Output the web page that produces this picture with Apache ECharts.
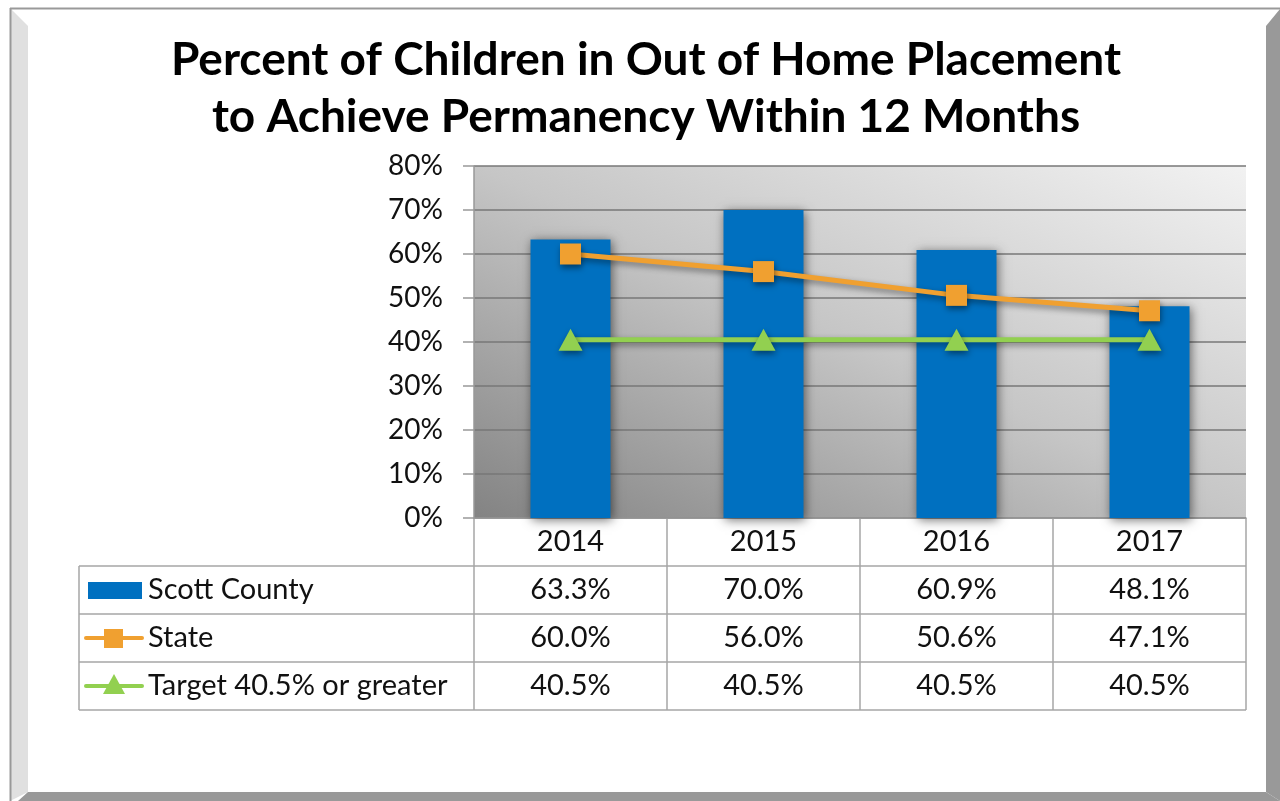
<!DOCTYPE html>
<html>
<head>
<meta charset="utf-8">
<script src="https://cdn.jsdelivr.net/npm/echarts@6/dist/echarts.min.js"></script>
<style>
  html, body { margin: 0; padding: 0; background: #fff; }
  #chart { width: 1280px; height: 801px; }
</style>
</head>
<body>
<div id="chart"></div>
<script>
// data
const years = ['2014', '2015', '2016', '2017'];
const scottCounty = [63.3, 70.0, 60.9, 48.1];
const state = [60.0, 56.0, 50.6, 47.1];
const target = [40.5, 40.5, 40.5, 40.5];
const seriesNames = ['Scott County', 'State', 'Target 40.5% or greater'];
const yTicks = [0, 10, 20, 30, 40, 50, 60, 70, 80];

const BLUE = '#0070c0';
const ORANGE = '#f0a030';
const GREEN = '#92d050';
const FONT = 'Lato';
const TABLE_LINE = '#a6a6a6';
const SHADOW = { shadowBlur: 6, shadowColor: 'rgba(0,0,0,0.45)', shadowOffsetX: 1, shadowOffsetY: 3 };

const chart = echarts.init(document.getElementById('chart'), null, { renderer: 'canvas' });

const grid = { left: 474, right: 34, top: 166, bottom: 283 };

const option = {
  animation: false,
  backgroundColor: '#fff',
  grid: { left: grid.left, right: grid.right, top: grid.top, bottom: grid.bottom },
  xAxis: {
    type: 'category',
    data: years,
    axisLine: { show: true, lineStyle: { color: '#999', width: 1.5 } },
    axisTick: { show: false },
    axisLabel: { show: false }
  },
  yAxis: {
    type: 'value',
    min: yTicks[0],
    max: yTicks[yTicks.length - 1],
    interval: 10,
    axisLine: { show: true, lineStyle: { color: '#999', width: 1.5 } },
    axisTick: { show: true, length: 11, lineStyle: { color: '#999', width: 1.5 } },
    axisLabel: {
      formatter: '{value}%',
      color: '#111',
      fontFamily: FONT,
      fontSize: 28,
      margin: 31
    },
    splitLine: { lineStyle: { color: '#777', width: 1.5 } }
  },
  series: [
    {
      name: seriesNames[0],
      type: 'bar',
      data: scottCounty,
      barWidth: 80,
      itemStyle: {
        color: BLUE,
        shadowBlur: 10,
        shadowColor: 'rgba(0,0,0,0.55)',
        shadowOffsetX: 1,
        shadowOffsetY: 2
      }
    },
    {
      name: seriesNames[1],
      type: 'line',
      data: state,
      symbol: 'rect',
      symbolSize: 21,
      lineStyle: Object.assign({ color: ORANGE, width: 5 }, SHADOW),
      itemStyle: Object.assign({ color: ORANGE }, SHADOW),
      z: 3
    },
    {
      name: seriesNames[2],
      type: 'line',
      data: target,
      symbol: 'triangle',
      symbolSize: [24, 22],
      lineStyle: Object.assign({ color: GREEN, width: 5 }, SHADOW),
      itemStyle: Object.assign({ color: GREEN }, SHADOW),
      z: 3
    }
  ]
};

chart.setOption(option);

// frame, title, plot background and data table
const W = 1280, H = 801;
const plotRight = W - grid.right;
const plotBottom = H - grid.bottom;
const tableLeft = 79;
const rowH = 48;
const headTop = plotBottom;
const band = (plotRight - grid.left) / years.length;
const elements = [];

// plot area gradient: dark bottom-left corner, light top-right corner,
// with the mid tone running along the other diagonal
const pw = plotRight - grid.left, ph = plotBottom - grid.top;
const k = (2 * pw * ph) / (pw * pw + ph * ph);
elements.push({
  type: 'rect', z: -1,
  shape: { x: grid.left, y: grid.top, width: pw, height: ph },
  style: {
    fill: new echarts.graphic.LinearGradient(0, 1, k * ph / pw, 1 - k * pw / ph, [
      { offset: 0, color: '#838383' },
      { offset: 0.5, color: '#c6c6c6' },
      { offset: 1, color: '#f2f2f2' }
    ])
  }
});

// bevelled frame
elements.push(
  { type: 'polygon', shape: { points: [[10, 8], [28, 26], [28, 792], [10, 801]] }, style: { fill: '#e0e0e0' } },
  { type: 'polygon', shape: { points: [[1266, 26], [1280, 9], [1280, 801], [1266, 792]] }, style: { fill: '#999' } },
  { type: 'polygon', shape: { points: [[28, 792], [1266, 792], [1280, 801], [18, 801]] }, style: { fill: '#999' } },
  { type: 'line', shape: { x1: 10, y1: 8.5, x2: 1280, y2: 8.5 }, style: { stroke: '#999', lineWidth: 2 } },
  { type: 'line', shape: { x1: 10.5, y1: 8, x2: 10.5, y2: 801 }, style: { stroke: '#999', lineWidth: 2 } }
);

// title
elements.push({
  type: 'text', x: 646, y: 32, z: 10,
  style: {
    text: 'Percent of Children in Out of Home Placement\nto Achieve Permanency Within 12 Months',
    align: 'center', verticalAlign: 'top',
    font: 'bold 46px ' + FONT, lineHeight: 57, fill: '#000'
  }
});

// table grid lines
for (let r = 1; r <= 4; r++) {
  const y = headTop + r * rowH;
  elements.push({ type: 'line', shape: { x1: tableLeft, y1: y, x2: plotRight, y2: y }, style: { stroke: TABLE_LINE, lineWidth: 1.5 } });
}
elements.push({ type: 'line', shape: { x1: tableLeft, y1: headTop + rowH, x2: tableLeft, y2: headTop + 4 * rowH }, style: { stroke: TABLE_LINE, lineWidth: 1.5 } });
for (let c = 0; c <= years.length; c++) {
  const x = grid.left + c * band;
  elements.push({ type: 'line', shape: { x1: x, y1: headTop, x2: x, y2: headTop + 4 * rowH }, style: { stroke: TABLE_LINE, lineWidth: 1.5 } });
}

const cellText = (x, y, text, align) => ({
  type: 'text', x: x, y: y, z: 10,
  style: { text: text, align: align || 'center', verticalAlign: 'middle', font: '29px ' + FONT, fill: '#111' }
});

// header row + values, positioned from the category axis
const rows = [scottCounty, state, target];
years.forEach((yr, i) => {
  const cx = chart.convertToPixel({ xAxisIndex: 0 }, yr);
  elements.push(cellText(cx, headTop + rowH / 2, yr));
  rows.forEach((vals, r) => {
    elements.push(cellText(cx, headTop + rowH * (r + 1.5), vals[i].toFixed(1) + '%'));
  });
});

// row labels with legend keys
seriesNames.forEach((name, r) => {
  const cy = headTop + rowH * (r + 1.5);
  elements.push(cellText(148, cy, name, 'left'));
});
let ky = headTop + rowH * 1.5;
elements.push({ type: 'rect', shape: { x: 88, y: ky - 8, width: 54, height: 17 }, style: { fill: BLUE } });
ky = headTop + rowH * 2.5;
elements.push({ type: 'line', shape: { x1: 86, y1: ky, x2: 142, y2: ky }, style: { stroke: ORANGE, lineWidth: 4, lineCap: 'round' } });
elements.push({ type: 'rect', shape: { x: 104, y: ky - 9, width: 19, height: 19 }, style: { fill: ORANGE } });
ky = headTop + rowH * 3.5;
elements.push({ type: 'line', shape: { x1: 86, y1: ky, x2: 142, y2: ky }, style: { stroke: GREEN, lineWidth: 4, lineCap: 'round' } });
elements.push({ type: 'polygon', shape: { points: [[114, ky - 12], [125, ky + 8], [103, ky + 8]] }, style: { fill: GREEN } });

chart.setOption({ graphic: { elements: elements } });
</script>
</body>
</html>
